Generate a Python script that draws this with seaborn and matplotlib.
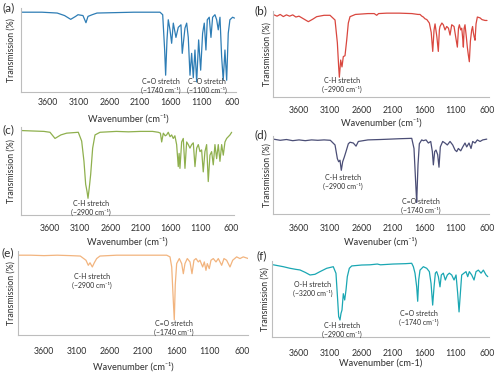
import numpy as np
import pandas as pd
import matplotlib
matplotlib.use("Agg")
import matplotlib.pyplot as plt
import seaborn as sns

# -------------------------------
# Spectra (wavenumber, transmission %)
# -------------------------------

a_wn = [4040, 3700, 3450, 3330, 3230, 3150, 3111, 3030, 2981, 2948, 2880, 2801, 2500, 2200, 1900,
        1774, 1730, 1698, 1682, 1660, 1639, 1611, 1584, 1557, 1514, 1476, 1432, 1411, 1367, 1339,
        1313, 1285, 1258, 1231, 1204, 1176, 1144, 1111, 1079, 1052, 1025, 1003, 971, 943, 916,
        878, 850, 824, 796, 769, 743, 715, 687, 661, 634, 590, 560]
a_tr = [95, 95, 94, 91, 86.5, 90, 92, 91, 82.5, 90, 92, 94, 94.5, 95, 95,
        95, 92, 50, 20, 62, 86, 74, 58, 82, 65, 77, 80, 46, 76, 82,
        65, 20, 46, 17, 50, 12, 62, 26, 70, 82, 50, 86, 89, 65, 89,
        92, 86, 74, 89, 42, 14, 50, 14, 70, 86, 89, 88]

b_wn = [4015, 3950, 3900, 3850, 3800, 3750, 3700, 3650, 3600, 3530, 3451, 3380, 3318, 3200, 3105,
        3025, 2988, 2967, 2956, 2935, 2914, 2893, 2866, 2839, 2813, 2786, 2700, 2500, 2400, 2360,
        2330, 2200, 2000, 1800, 1700, 1669, 1640, 1616, 1590, 1560, 1520, 1490, 1466, 1445, 1429,
        1400, 1377, 1360, 1350, 1320, 1297, 1270, 1243, 1215, 1190, 1163, 1126, 1100, 1073, 1055,
        1041, 1020, 1003, 990, 977, 965, 951, 930, 914, 900, 882, 865, 844, 830, 818,
        805, 791, 775, 754, 711, 680, 631, 600]
b_tr = [96, 94, 96, 93.5, 95.5, 94, 95.5, 93, 94, 91, 87.6, 90.5, 93.4, 95, 95,
        89.5, 63, 35, 23, 43, 35, 47, 48, 66, 86, 93.4, 96, 97, 97, 95,
        97, 97.5, 97.5, 97, 96, 96, 94, 93, 91, 90, 86, 75, 53, 78, 85,
        70, 53, 78, 82, 86, 84, 78, 82, 80, 72, 84, 82, 70, 58, 80,
        84, 78, 80, 70, 58, 80, 84, 70, 58, 50, 41, 65, 78, 82, 75,
        70, 66, 85, 93, 92, 90, 89, 89]

c_wn = [4085, 3900, 3700, 3600, 3517, 3420, 3324, 3131, 3075, 3037, 3009, 2987, 2970, 2949, 2926,
        2893, 2854, 2771, 2500, 2300, 2100, 1900, 1805, 1770, 1749, 1722, 1690, 1667, 1640, 1610,
        1584, 1557, 1530, 1501, 1474, 1460, 1446, 1418, 1391, 1363, 1335, 1308, 1280, 1252, 1225,
        1197, 1169, 1142, 1114, 1087, 1060, 1032, 1004, 977, 949, 921, 894, 866, 838, 811,
        783, 755, 728, 700, 672, 617, 589]
c_tr = [96, 95.5, 95, 94, 87, 91, 93, 94, 84, 61, 35, 27, 19, 31, 46,
        76, 91, 94, 95, 94.5, 95, 95, 94, 93, 83, 93, 90, 91, 94, 89,
        91, 87, 90, 80, 55, 70, 53, 83, 87, 53, 83, 80, 76, 80, 82,
        55, 76, 80, 72, 74, 49, 72, 80, 38, 68, 72, 57, 80, 64, 80,
        61, 80, 68, 83, 87, 91, 94]

d_wn = [4010, 3900, 3800, 3700, 3600, 3500, 3400, 3300, 3200, 3100, 3025, 2988, 2967, 2946, 2925,
        2903, 2877, 2850, 2813, 2786, 2733, 2690, 2653, 2500, 2300, 2148, 2000, 1801, 1765, 1733,
        1722, 1701, 1680, 1642, 1616, 1573, 1536, 1498, 1472, 1456, 1435, 1414, 1387, 1366, 1345,
        1307, 1270, 1233, 1190, 1147, 1110, 1083, 1057, 1019, 987, 951, 924, 887, 855, 828,
        791, 754, 711, 668, 604]
d_tr = [96, 94.5, 95.5, 94, 95, 94, 95, 94.5, 95, 94.5, 88.5, 71, 67, 69, 56,
        67, 73, 80, 90, 92, 91, 87, 93, 95, 95.5, 96, 96.5, 97, 84, 32,
        15, 63, 90, 95, 94, 95, 91, 93, 80, 63, 80, 82, 76, 60, 86,
        93, 91, 88.5, 93, 88.5, 82, 80, 84, 81, 86, 91, 86, 91, 84, 93,
        91, 95, 93, 95, 96]

e_wn = [3989, 3800, 3600, 3400, 3200, 3050, 2964, 2929, 2903, 2868, 2838, 2802, 2752, 2500, 2200,
        1900, 1741, 1691, 1665, 1641, 1626, 1611, 1590, 1550, 1514, 1489, 1464, 1429, 1388, 1358,
        1328, 1297, 1262, 1237, 1196, 1171, 1146, 1126, 1096, 1070, 1035, 994, 959, 908, 873,
        833, 782, 741, 681, 631, 581, 505]
e_tr = [95, 95, 94.5, 95, 94.5, 94, 89, 83, 86, 81, 86, 91, 94, 95, 95,
        95, 95, 93, 81, 41, 18, 60, 85, 91, 85, 73, 85, 91, 87, 73,
        89, 91, 87, 89, 81, 87, 77, 85, 79, 89, 91, 87, 91, 83, 91,
        89, 81, 89, 93, 91, 93, 91]

f_wn = [4010, 3850, 3744, 3650, 3584, 3500, 3424, 3345, 3265, 3158, 3053, 3010, 2983, 2967, 2946,
        2930, 2914, 2893, 2871, 2850, 2829, 2797, 2759, 2600, 2467, 2350, 2300, 2100, 1900, 1802,
        1775, 1749, 1722, 1706, 1690, 1669, 1616, 1562, 1520, 1493, 1467, 1445, 1424, 1403, 1376,
        1350, 1329, 1297, 1265, 1233, 1201, 1163, 1126, 1094, 1068, 1046, 1025, 1004, 967, 935,
        908, 882, 844, 807, 775, 738, 695, 658, 615, 588]
f_tr = [95, 92.5, 90.4, 89, 88.2, 85, 81.6, 82.5, 86, 90.4, 92.5, 83.8, 48.7, 26.8, 22.4,
        31, 35.5, 57, 48.7, 61.8, 79.4, 90.4, 93.5, 94.7, 95, 96, 95, 96, 96.5, 97,
        92.5, 84, 66, 47, 75, 88, 92.5, 90.4, 86, 70.6, 42, 66, 84, 86, 79.4,
        66, 81.6, 84, 75, 81.6, 84, 81.6, 75, 81.6, 57.5, 33, 57.5, 81.6, 84, 86,
        79.4, 86, 81.6, 75, 86, 88, 84, 88, 81.6, 79.4]

tick_values = [3600, 3100, 2600, 2100, 1600, 1100, 600]
tick_labels = ["3600", "3100", "2600", "2100", "1600", "1100", "600"]

panel_tags = ["(a)", "(b)", "(c)", "(d)", "(e)", "(f)"]
x_titles = ["Wavenumber (cm\u207b\u00b9)", "Wavenumber (cm\u207b\u00b9)", "Wavenumber (cm\u207b\u00b9)",
            "Wavenuber (cm\u207b\u00b9)", "Wavenumber (cm\u207b\u00b9)", "Wavenumber (cm-1)"]
colors = ["#2e7db5", "#d9473f", "#8fb04e", "#4b4e76", "#f2b47e", "#1aa7b3"]

spectra = [(a_wn, a_tr), (b_wn, b_tr), (c_wn, c_tr), (d_wn, d_tr), (e_wn, e_tr), (f_wn, f_tr)]

# peak notes: text, centre in pixels
notes = [
    [("C=O stretch\n(~1740 cm\u207b\u00b9)", 161, 86), ("C\u2013O stretch\n(~1100 cm\u207b\u00b9)", 207, 86)],
    [("C-H stretch\n(~2900 cm\u207b\u00b9)", 342, 85)],
    [("C-H stretch\n(~2900 cm\u207b\u00b9)", 91, 208)],
    [("C-H stretch\n(~2900 cm\u207b\u00b9)", 343, 182), ("C=O stretch\n(~1740 cm\u207b\u00b9)", 421, 206)],
    [("C-H stretch\n(~2900 cm\u207b\u00b9)", 92, 281), ("C=O stretch\n(~1740 cm\u207b\u00b9)", 174, 328)],
    [("O-H stretch\n(~3200 cm\u207b\u00b9)", 313, 289), ("C-H stretch\n(~2900 cm\u207b\u00b9)", 342, 330),
     ("C=O stretch\n(~1740 cm\u207b\u00b9)", 419, 318)],
]

# layout in pixels: left, right, top, bottom, x of 3600 tick, x of 600 tick
boxes = [
    (21, 236, 8, 92, 48, 232),
    (273, 489, 11, 97, 299, 487),
    (21, 234, 127, 215, 50, 231),
    (273, 489, 136, 214, 299, 487),
    (18, 248, 251, 335, 44, 242),
    (272, 489, 261, 337, 299, 487),
]
tag_pos = [(9, 8), (261, 11), (8, 130), (261, 135), (8, 253), (262, 256)]
tick_pads = [2.5, 4.5, 4.5, 5.0, 7.0, 6.8]
xlabel_pads = [5.0, 2.0, 3.2, 3.2, 4.0, 0.6]
ylabel_pads = [4, 1, 4, 1, 2, 1.5]

sns.set_style("white")
plt.rcParams['font.family'] = ['Lato', 'DejaVu Sans']

W, H = 500, 374
fig = plt.figure(figsize=(5, 3.74), dpi=100)
text_col = "#2e2e2e"
spine_col = "#bdbdbd"

for i in range(6):
    left, right, top, bottom, p3600, p600 = boxes[i]
    s = (p600 - p3600) / 3000
    xmax = 3600 + (p3600 - left) / s
    xmin = 600 - (right - p600) / s
    ax = fig.add_axes([left / W, 1 - bottom / H, (right - left) / W, (bottom - top) / H])

    df = pd.DataFrame({"wn": spectra[i][0], "tr": spectra[i][1]})
    sns.lineplot(data=df, x="wn", y="tr", ax=ax, color=colors[i], linewidth=0.9, sort=False)

    ax.set_xlim(xmax, xmin)
    ax.set_ylim(0, 100)
    ax.set_xticks(tick_values)
    ax.set_xticklabels(tick_labels)
    ax.set_yticks([])
    for sp in ["top", "right"]:
        ax.spines[sp].set_visible(False)
    for sp in ["left", "bottom"]:
        ax.spines[sp].set_color(spine_col)
        ax.spines[sp].set_linewidth(0.8)
    ax.tick_params(axis="x", length=2, width=0.6, color=spine_col, pad=tick_pads[i],
                   labelsize=6.3, labelcolor=text_col)
    ax.set_xlabel(x_titles[i], fontsize=6.7, color=text_col, labelpad=xlabel_pads[i])
    ax.set_ylabel("Transmission (%)", fontsize=6.3, color=text_col, labelpad=ylabel_pads[i])

    tx, ty = tag_pos[i]
    fig.text(tx / W, 1 - ty / H, panel_tags[i], fontsize=8.5, color=text_col, ha="center", va="center")

    for txt, cx, cy in notes[i]:
        fig.text(cx / W, 1 - cy / H, txt, fontsize=5.0, color=text_col, ha="center", va="center",
                 linespacing=1.3)

fig.savefig("out.png", dpi=100)
